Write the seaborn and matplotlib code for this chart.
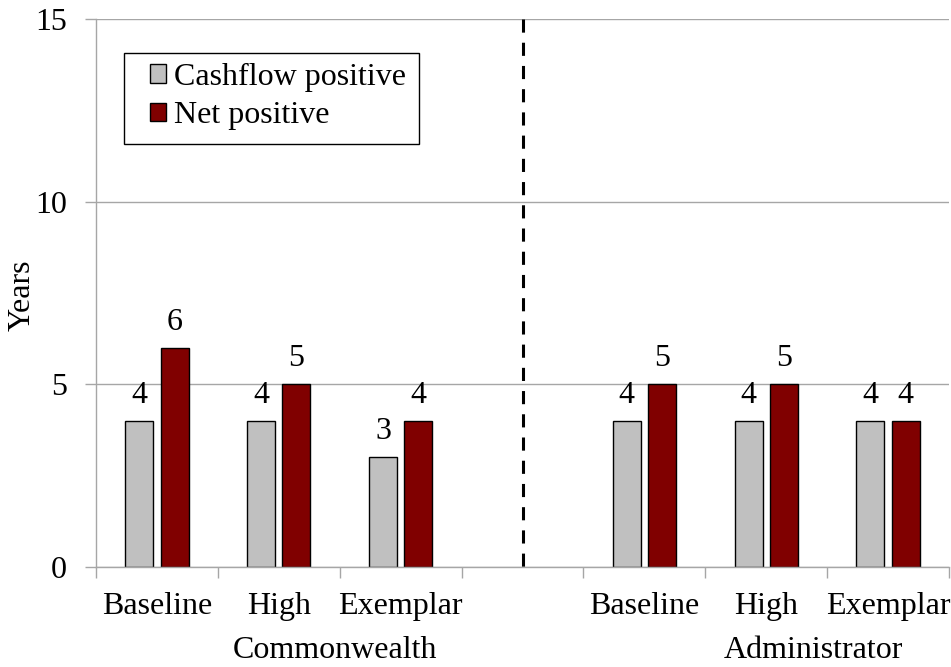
import matplotlib
matplotlib.use("Agg")
import matplotlib.pyplot as plt
import matplotlib.patches as mpatches
import seaborn as sns
import pandas as pd

# Category slots (a blank slot separates the two groups)
slots = ["Commonwealth Baseline", "Commonwealth High", "Commonwealth Exemplar", "",
         "Administrator Baseline", "Administrator High", "Administrator Exemplar"]
slot_labels = ["Baseline", "High", "Exemplar", "", "Baseline", "High", "Exemplar"]
groups = ["Commonwealth", "Administrator"]

scenarios = ["Commonwealth Baseline", "Commonwealth High", "Commonwealth Exemplar",
             "Administrator Baseline", "Administrator High", "Administrator Exemplar"]
cashflow_positive = [4, 4, 3, 4, 4, 4]
net_positive = [6, 5, 4, 5, 5, 4]
series = ["Cashflow positive", "Net positive"]
colors = ["#c0c0c0", "#800000"]

df = pd.DataFrame({
    "scenario": scenarios * 2,
    "years": cashflow_positive + net_positive,
    "series": [series[0]] * len(scenarios) + [series[1]] * len(scenarios),
})

sns.set_style("white")
plt.rcParams["font.family"] = ["Liberation Serif", "DejaVu Serif"]
plt.rcParams["text.color"] = "black"
plt.rcParams["axes.labelcolor"] = "black"
plt.rcParams["xtick.labelcolor"] = "black"
plt.rcParams["ytick.labelcolor"] = "black"

FS = 23

fig = plt.figure(figsize=(9.51, 6.67), dpi=100)
ax = fig.add_axes([96 / 951, 100 / 667, 853 / 951, 548 / 667])

sns.barplot(data=df, x="scenario", y="years", hue="series", order=slots,
            hue_order=series, palette=colors, width=0.58, gap=0.21,
            edgecolor="black", linewidth=1, saturation=1, ax=ax, legend=False)

# value labels above each bar
for cont in ax.containers:
    ax.bar_label(cont, fmt="%d", padding=8, fontsize=FS, color="black")

ax.set_xlim(-0.5, len(slots) - 0.5)
ax.set_ylim(0, 15)
ax.set_yticks([0, 5, 10, 15])
ax.set_ylabel("")
ax.set_xlabel("")
fig.text(22 / 951, 1 - 295 / 667, "Years", rotation=90, ha="center", va="center",
         fontsize=FS)

ax.yaxis.grid(True, color="#a6a6a6", linewidth=1)
ax.set_axisbelow(True)
for s in ["top", "right"]:
    ax.spines[s].set_visible(False)
for s in ["left", "bottom"]:
    ax.spines[s].set_color("#a6a6a6")
    ax.spines[s].set_linewidth(1)

ax.tick_params(axis="y", which="major", direction="out", length=8, width=1,
               color="#a6a6a6", labelsize=FS, pad=13, left=True)

# slot boundaries as major ticks, slot names as minor tick labels
ax.set_xticks([i - 0.5 for i in range(len(slots) + 1)])
ax.set_xticklabels([])
ax.set_xticks(range(len(slots)), minor=True)
ax.set_xticklabels(slot_labels, minor=True)
ax.tick_params(axis="x", which="major", direction="out", length=8, width=1,
               color="#a6a6a6", bottom=True)
ax.tick_params(axis="x", which="minor", length=0, labelsize=FS, pad=18)

# group labels
for name, xc in zip(groups, [1.46, 5.39]):
    ax.text(xc, -0.152, name, transform=ax.get_xaxis_transform(),
            ha="center", va="center", fontsize=FS)

# dashed divider between the groups, drawn from the top down
ax.axvline(3.0, ymin=1, ymax=0, color="black", linewidth=2.2,
           linestyle=(0, (4.3, 3.3)))

# legend box and entries
box = mpatches.Rectangle((124 / 951, 1 - 144 / 667), 295 / 951, 91 / 667,
                         transform=fig.transFigure, facecolor="white",
                         edgecolor="black", linewidth=1, zorder=4)
ax.add_patch(box)
handles = [mpatches.Patch(facecolor=c, edgecolor="black", linewidth=1, label=l)
           for c, l in zip(colors, series)]
leg = ax.legend(handles=handles, loc="upper left",
                bbox_to_anchor=(137 / 951, 1 - 50 / 667),
                bbox_transform=fig.transFigure, fontsize=FS,
                handlelength=0.5, handleheight=0.5, handletextpad=0.25,
                borderpad=0.4, labelspacing=0.3, borderaxespad=0,
                frameon=False)
leg.set_zorder(5)

fig.savefig("out.png", dpi=100)
